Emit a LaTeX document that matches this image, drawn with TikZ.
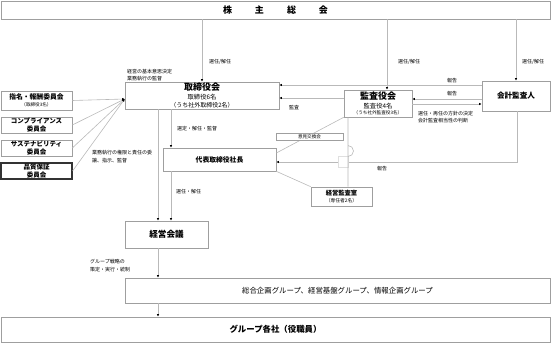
\documentclass[tikz,border=0pt]{standalone}
\usepackage{fontspec}
\setmainfont{Noto Sans CJK JP}
\usepackage{tikz}
\usetikzlibrary{arrows.meta}

\newcommand{\fs}[1]{\fontsize{#1}{#1}\selectfont}

\begin{document}
\begin{tikzpicture}[x=1pt, y=-1pt, font=\fs{5},
    box/.style={draw=gray!75, fill=white, inner sep=0pt, align=center, line width=0.6pt},
    lbl/.style={anchor=west, inner sep=0pt, align=left},
    line/.style={draw=gray!55, line width=0.6pt},
    arr/.style={line, -{Latex[length=2.6pt, width=2.4pt, color=black]}}]
    \useasboundingbox (0,0) rectangle (551,343);

    % main boxes, sizes taken from the 551x343 layout
    \node[box, minimum width=549, minimum height=18] (kabunushi) at (275.5,10)
      {\fs{9}\bfseries 株\hspace{23pt}主\hspace{23pt}総\hspace{23pt}会};
    \node[box, minimum width=154, minimum height=27] (torishimari) at (202,95.5)
      {{\fs{9}\bfseries 取締役会}\\[1.5pt]{\fs{6.3}取締役6名}\\[1.2pt]{\fs{6}（うち社外取締役2名）}};
    \node[box, minimum width=68, minimum height=27] (kansayaku) at (378,103.5)
      {{\fs{9}\bfseries 監査役会}\\[1.5pt]{\fs{6.3}監査役4名}\\[1.2pt]{\fs{4.6}（うち社外監査役3名）}};
    \node[box, minimum width=68, minimum height=30] (kaikei) at (516,96)
      {\fs{7.6}\bfseries 会計監査人};

    % committees on the left
    \node[box, minimum width=71, minimum height=19] (shimei) at (36.5,100.5)
      {{\fs{6.8}\bfseries 指名・報酬委員会}\\[1.5pt]{\fs{4.6}（取締役3名）}};
    \node[box, minimum width=71, minimum height=16] (compli) at (36.5,125)
      {\fs{6.5}\bfseries コンプライアンス\\[1pt]\fs{6.5}\bfseries 委員会};
    \node[box, minimum width=71, minimum height=16] (sustain) at (36.5,148)
      {\fs{6.5}\bfseries サステナビリティ\\[1pt]\fs{6.5}\bfseries 委員会};
    \node[box, minimum width=71, minimum height=16, draw=black!80, line width=1.1pt] (hinshitsu) at (36.5,171)
      {\fs{6.5}\bfseries 品質保証\\[1pt]\fs{6.5}\bfseries 委員会};

    \node[box, minimum width=113, minimum height=23] (shacho) at (219.5,159.5)
      {\fs{6.8}\bfseries 代表取締役社長};
    \node[box, minimum width=61, minimum height=19] (kansashitsu) at (341.5,196.5)
      {{\fs{6.3}\bfseries 経営監査室}\\[2pt]{\fs{4.8}（専任者2名）}};
    \node[box, minimum width=83, minimum height=27] (kaigi) at (166.5,234.5)
      {\fs{8.6}\bfseries 経営会議};
    \node[box, minimum width=425, minimum height=25] (group) at (337.5,290.5)
      {\fs{7.4}総合企画グループ、経営基盤グループ、情報企画グループ};
    \node[box, minimum width=549, minimum height=25] (kaisha) at (275.5,329.5)
      {\fs{8.4}\bfseries グループ各社（役職員）};

    % from the shareholders
    \draw[arr] (kabunushi.south -| torishimari.north) -- (torishimari.north);
    \draw[arr] ([xshift=9]kabunushi.south -| kansayaku.north) -- ([xshift=9]kansayaku.north);
    \draw[arr] (kabunushi.south -| kaikei.north) -- (kaikei.north);
    \node[lbl] (sen1) at (209,62) {選任/解任};
    \node[lbl] (sen2) at (398,62) {選任/解任};
    \node[lbl] (sen3) at (522,62) {選任/解任};
    \node[lbl] (kihon) at (127,75) {経営の基本意思決定\\[2.5pt]業務執行の監督};

    % reports and audit between the boards
    \coordinate (k1) at ([yshift=11]kaikei.west);
    \coordinate (k2) at ([yshift=-3]kaikei.west);
    \coordinate (k3) at ([yshift=-8]kaikei.west);
    \coordinate (s1) at ([yshift=5.5]kansayaku.west);
    \draw[arr] (k1) -- (k1 -| torishimari.east);
    \draw[arr] (k2) -- (k2 -| kansayaku.east);
    \draw[arr] (k3 -| kansayaku.east) -- (k3);
    \draw[arr] (s1) -- (s1 -| torishimari.east);
    \node[anchor=south, inner sep=1pt] (hou1) at (452,84) {報告};
    \node[anchor=south, inner sep=1pt] (hou2) at (452,97.5) {報告};
    \node[lbl] (kansa) at (289,108) {監査};
    \node[lbl] (hoshin) at (418,117) {選任・再任の方針の決定\\[2.5pt]会計監査相当性の判断};

    % committees report to the board
    \coordinate (tin) at ([yshift=-3.5]torishimari.west);
    \foreach \c in {shimei, compli, sustain, hinshitsu}
      \draw[arr] (\c.east) -- (tin);

    % board down to president and management council
    \coordinate (v1) at (158,0);
    \draw[arr] (torishimari.south -| v1) -- (kaigi.north -| v1);
    \draw[arr] ([xshift=-31]torishimari.south) -- ([xshift=-48.5]shacho.north);
    \draw[arr] (shacho.south -| kaigi.north) ++(4.5,0) coordinate (p1) -- (p1 |- kaigi.north);
    \node[lbl] (sentei) at (177,129) {選定・解任・監督};
    \node[lbl] (ijou) at (92,156.5) {業務執行の権限と責任の委\\[2.5pt]譲、指示、監督};
    \node[lbl] (sen4) at (176,192) {選任・解任};

    % audit office and exchange meeting
    \draw[line] (kansayaku.south west) -- ([yshift=6.5]shacho.east);
    \draw[line] (kansashitsu.north west) -- (shacho.south east);
    \node[box, minimum width=67, minimum height=7] (iken) at (309.5,136.5) {\fs{4.6}意見交換会};
    \coordinate (k4) at (517,162);
    \draw[arr] (kaikei.south -| k4) -- (k4) -- (k4 -| shacho.east);
    \node[lbl] (hou3) at (377,169) {報告};
    % jump over the report line
    \draw[draw=gray!25, fill=white] (338,156.5) rectangle (348,167.5);
    \coordinate (v2) at (348,0);
    \draw[line] (kansayaku.south -| v2) -- (348,156.5) arc (90:-90:5.5) -- (kansashitsu.north -| v2);

    % council to groups and companies
    \draw[arr] (kaigi.south -| v1) -- (group.north -| v1);
    \draw[arr] (group.south -| v1) -- (kaisha.north -| v1);
    \node[lbl] (senryaku) at (90,265.5) {グループ戦略の\\[2.5pt]策定・実行・統制};
\end{tikzpicture}
\end{document}
